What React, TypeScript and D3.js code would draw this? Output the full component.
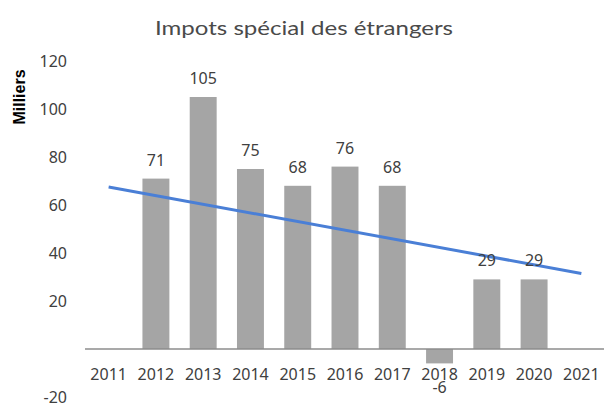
import * as d3 from "d3";

// Chart data
const years: string[] = ["2011", "2012", "2013", "2014", "2015", "2016", "2017", "2018", "2019", "2020", "2021"];
const values: (number | null)[] = [null, 71, 105, 75, 68, 76, 68, -6, 29, 29, null];
const trendYears: string[] = ["2011", "2021"];
const trendValues: number[] = [67.5, 31.5];
const yTicks: number[] = [120, 100, 80, 60, 40, 20, -20];

const W = 604;
const H = 405;

export default function App(): JSX.Element {
    // Scales
    const x = d3.scaleBand<string>()
        .domain(years)
        .range([85, 605])
        .paddingInner(0.43)
        .paddingOuter(0.215);

    const y = d3.scaleLinear()
        .domain([-20, 120])
        .range([397, 61]);

    const center = (d: string) => (x(d) ?? 0) + x.bandwidth() / 2;

    const trendLine = d3.line<number>()
        .x((_, i) => center(trendYears[i]))
        .y(d => y(d));

    const font = "'Noto Sans', 'Liberation Sans', sans-serif";
    const textColor = "#404040";

    return (
        <svg width={W} height={H} style={{ position: "absolute", left: 0, top: 0, background: "#fff" }}>
            {/* Title */}
            <text x={304} y={35} textAnchor="middle" fontFamily="Lato, sans-serif" fontSize={20}
                fill="#4a4a4a" textLength={298} lengthAdjust="spacingAndGlyphs">
                Impots spécial des étrangers
            </text>

            {/* Y axis title */}
            <text transform={`translate(25,97) rotate(-90)`} textAnchor="middle"
                fontFamily="'Liberation Sans', Arial, sans-serif" fontWeight="bold" fontSize={16} fill="#000">
                Milliers
            </text>

            {/* Y tick labels */}
            {yTicks.map(t => (
                <text key={t} x={67} y={y(t)} dy="0.35em" textAnchor="end"
                    fontFamily={font} fontSize={16} fill={textColor}>
                    {t}
                </text>
            ))}

            {/* Bars */}
            {years.map((yr, i) => {
                const v = values[i];
                if (v === null) return null;
                return (
                    <rect key={yr} x={x(yr)} width={x.bandwidth()}
                        y={Math.min(y(v), y(0))} height={Math.abs(y(v) - y(0))}
                        fill="#a5a5a5" />
                );
            })}

            {/* Zero axis line */}
            <line x1={85} x2={W} y1={y(0)} y2={y(0)} stroke="#8c8c8c" strokeWidth={1.5} />

            {/* Category labels */}
            {years.map(yr => (
                <text key={yr} x={center(yr)} y={380} textAnchor="middle"
                    fontFamily={font} fontSize={16} fill={textColor}>
                    {yr}
                </text>
            ))}

            {/* Trend line */}
            <path d={trendLine(trendValues) ?? ""} fill="none" stroke="#4a7fd6" strokeWidth={3} />

            {/* Value labels */}
            {years.map((yr, i) => {
                const v = values[i];
                if (v === null) return null;
                const ly = v >= 0 ? y(v) - 13 : y(v) + 30;
                return (
                    <text key={yr} x={center(yr)} y={ly} textAnchor="middle"
                        fontFamily={font} fontSize={16} fill={textColor}>
                        {v}
                    </text>
                );
            })}
        </svg>
    );
}
